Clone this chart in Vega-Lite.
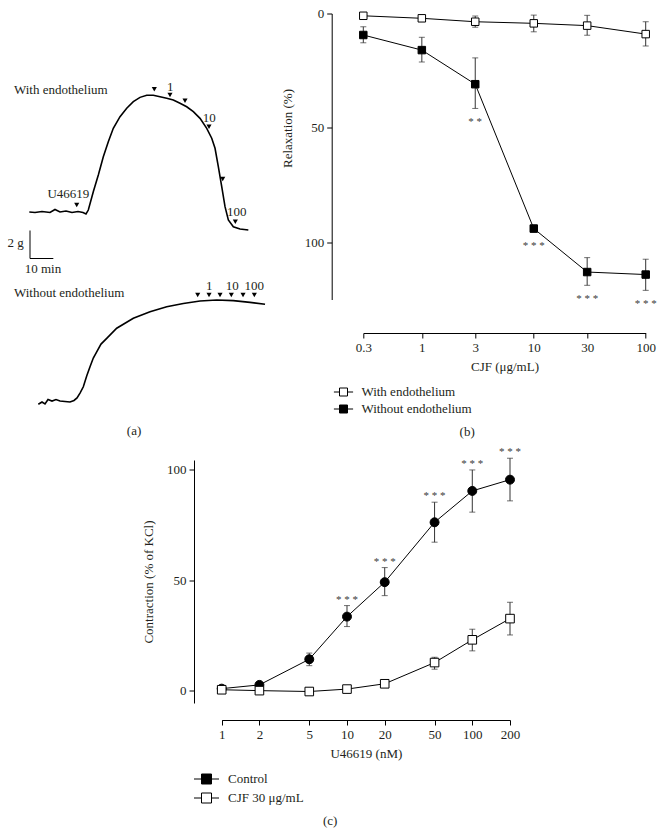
{
 "$schema": "https://vega.github.io/schema/vega-lite/v6.json",
 "autosize": {"type": "none"},
 "padding": {"left": 30, "top": 13.5, "right": 633, "bottom": 821.5},
 "bounds": "flush",
 "spacing": 88.3,
 "resolve": {"scale": {"fill": "independent"}, "legend": {"fill": "independent"}},
 "datasets": {
  "traceWith": [
   {"t": -0.3, "g": 3.82}, {"t": 2.14, "g": 3.79}, {"t": 5.14, "g": 3.86}, {"t": 8.57, "g": 3.79}, {"t": 10.71, "g": 4.0},
   {"t": 12.86, "g": 3.82}, {"t": 15.43, "g": 3.89}, {"t": 18.0, "g": 3.79}, {"t": 20.57, "g": 3.86}, {"t": 22.71, "g": 3.79},
   {"t": 24.0, "g": 3.68}, {"t": 24.99, "g": 3.96}, {"t": 27.13, "g": 5.27}, {"t": 29.28, "g": 6.46}, {"t": 31.42, "g": 7.77},
   {"t": 33.56, "g": 8.84}, {"t": 35.7, "g": 9.8}, {"t": 38.58, "g": 10.63}, {"t": 41.45, "g": 11.23}, {"t": 44.28, "g": 11.7},
   {"t": 47.15, "g": 12.01}, {"t": 50.02, "g": 12.16}, {"t": 52.85, "g": 12.16}, {"t": 55.72, "g": 12.06}, {"t": 58.59, "g": 11.94},
   {"t": 61.42, "g": 11.82}, {"t": 64.29, "g": 11.59}, {"t": 67.17, "g": 11.34}, {"t": 70.0, "g": 10.99}, {"t": 72.87, "g": 10.51},
   {"t": 75.74, "g": 9.8}, {"t": 77.88, "g": 9.09}, {"t": 79.3, "g": 8.37}, {"t": 80.71, "g": 7.06}, {"t": 82.17, "g": 5.63},
   {"t": 83.58, "g": 4.2}, {"t": 85.0, "g": 3.25}, {"t": 87.14, "g": 2.77}, {"t": 90.01, "g": 2.61}, {"t": 93.57, "g": 2.54}
  ],
  "traceWithout": [
   {"t": 3.56, "g": 0.41}, {"t": 5.14, "g": 0.57}, {"t": 6.43, "g": 0.43}, {"t": 7.72, "g": 0.75}, {"t": 9.43, "g": 0.64},
   {"t": 11.14, "g": 0.75}, {"t": 12.86, "g": 0.64}, {"t": 15.0, "g": 0.61}, {"t": 17.14, "g": 0.57}, {"t": 18.86, "g": 0.68},
   {"t": 20.15, "g": 0.86}, {"t": 21.43, "g": 1.21}, {"t": 22.85, "g": 1.66}, {"t": 24.3, "g": 2.43}, {"t": 25.72, "g": 3.09},
   {"t": 27.13, "g": 3.71}, {"t": 28.59, "g": 4.16}, {"t": 30.43, "g": 4.71}, {"t": 32.88, "g": 5.12}, {"t": 37.16, "g": 5.84},
   {"t": 44.28, "g": 6.55}, {"t": 51.44, "g": 7.02}, {"t": 58.59, "g": 7.38}, {"t": 65.71, "g": 7.61}, {"t": 72.87, "g": 7.79},
   {"t": 80.03, "g": 7.86}, {"t": 87.14, "g": 7.81}, {"t": 94.3, "g": 7.69}, {"t": 100.73, "g": 7.55}
  ],
  "arrowsWith": [
   {"t": 53.28, "g": 12.59}, {"t": 60.0, "g": 12.18}, {"t": 66.44, "g": 11.77}, {"t": 76.72, "g": 9.91},
   {"t": 82.6, "g": 6.18}, {"t": 88.0, "g": 3.13}, {"t": 20.02, "g": 4.32}
  ],
  "labelsWith": [
   {"t": 60.14, "g": 12.77, "label": "1"}, {"t": 76.85, "g": 10.51, "label": "10"}, {"t": 88.6, "g": 3.84, "label": "100"},
   {"t": 16.42, "g": 5.09, "label": "U46619"}, {"t": -6.21, "g": 1.59, "label": "2 g"}, {"t": 5.57, "g": -0.25, "label": "10 min"}
  ],
  "scaleBar": [
   {"t1": 0, "t2": 0, "g1": 0.5, "g2": 2.5},
   {"t1": 0, "t2": 10, "g1": 0.5, "g2": 0.5}
  ],
  "arrowsWithout": [
   {"t": 71.87, "g": 8.21}, {"t": 76.72, "g": 8.21}, {"t": 81.44, "g": 8.21}, {"t": 86.28, "g": 8.21}, {"t": 91.3, "g": 8.21}, {"t": 96.14, "g": 8.21}
  ],
  "labelsWithout": [
   {"t": 76.85, "g": 8.88, "label": "1"}, {"t": 86.71, "g": 8.88, "label": "10"}, {"t": 96.14, "g": 8.88, "label": "100"}, {"t": 44.58, "g": -1.5, "label": "(a)"}
  ],
  "relax": [
   {"conc": 0.3, "series": "With endothelium", "mean": 1.0, "lo": 0.5, "hi": 1.5, "sig": ""},
   {"conc": 1, "series": "With endothelium", "mean": 2.1, "lo": 1.6, "hi": 2.6, "sig": ""},
   {"conc": 3, "series": "With endothelium", "mean": 3.6, "lo": 1.1, "hi": 6.0, "sig": ""},
   {"conc": 10, "series": "With endothelium", "mean": 4.3, "lo": 0.7, "hi": 8.0, "sig": ""},
   {"conc": 30, "series": "With endothelium", "mean": 5.3, "lo": 0.8, "hi": 9.5, "sig": ""},
   {"conc": 100, "series": "With endothelium", "mean": 9.0, "lo": 3.6, "hi": 14.2, "sig": ""},
   {"conc": 0.3, "series": "Without endothelium", "mean": 9.4, "lo": 5.8, "hi": 12.8, "sig": ""},
   {"conc": 1, "series": "Without endothelium", "mean": 16.0, "lo": 10.4, "hi": 21.2, "sig": ""},
   {"conc": 3, "series": "Without endothelium", "mean": 30.9, "lo": 19.4, "hi": 41.5, "sig": "* *"},
   {"conc": 10, "series": "Without endothelium", "mean": 94.0, "lo": 92.5, "hi": 95.5, "sig": "* * *"},
   {"conc": 30, "series": "Without endothelium", "mean": 113.0, "lo": 106.7, "hi": 118.8, "sig": "* * *"},
   {"conc": 100, "series": "Without endothelium", "mean": 114.1, "lo": 107.4, "hi": 121.0, "sig": "* * *"}
  ],
  "contract": [
   {"dose": 1, "series": "Control", "mean": 1.0, "lo": 0.3, "hi": 1.7, "sig": ""},
   {"dose": 2, "series": "Control", "mean": 2.7, "lo": 2.0, "hi": 3.4, "sig": ""},
   {"dose": 5, "series": "Control", "mean": 14.3, "lo": 11.4, "hi": 17.1, "sig": ""},
   {"dose": 10, "series": "Control", "mean": 33.6, "lo": 29.1, "hi": 38.6, "sig": "* * *"},
   {"dose": 20, "series": "Control", "mean": 49.2, "lo": 43.1, "hi": 55.8, "sig": "* * *"},
   {"dose": 50, "series": "Control", "mean": 76.3, "lo": 67.3, "hi": 85.4, "sig": "* * *"},
   {"dose": 100, "series": "Control", "mean": 90.5, "lo": 80.9, "hi": 100.0, "sig": "* * *"},
   {"dose": 200, "series": "Control", "mean": 95.6, "lo": 86.0, "hi": 105.3, "sig": "* * *"},
   {"dose": 1, "series": "CJF 30 μg/mL", "mean": 0.5, "lo": 0.0, "hi": 1.0, "sig": ""},
   {"dose": 2, "series": "CJF 30 μg/mL", "mean": 0.1, "lo": -0.4, "hi": 0.6, "sig": ""},
   {"dose": 5, "series": "CJF 30 μg/mL", "mean": -0.3, "lo": -0.8, "hi": 0.2, "sig": ""},
   {"dose": 10, "series": "CJF 30 μg/mL", "mean": 0.8, "lo": 0.3, "hi": 1.3, "sig": ""},
   {"dose": 20, "series": "CJF 30 μg/mL", "mean": 3.2, "lo": 2.5, "hi": 3.9, "sig": ""},
   {"dose": 50, "series": "CJF 30 μg/mL", "mean": 12.8, "lo": 9.8, "hi": 15.2, "sig": ""},
   {"dose": 100, "series": "CJF 30 μg/mL", "mean": 23.1, "lo": 18.1, "hi": 27.9, "sig": ""},
   {"dose": 200, "series": "CJF 30 μg/mL", "mean": 32.7, "lo": 25.3, "hi": 40.1, "sig": ""}
  ],
  "panelB": [{"conc": 2.54, "pos": 182.7, "label": "(b)"}],
  "panelC": [{"dose": 7.35, "pos": -59.1, "label": "(c)"}]
 },
 "hconcat": [
  {
   "width": 245,
   "height": 396.5,
   "resolve": {"scale": {"x": "independent", "y": "independent"}},
   "layer": [
    {
     "resolve": {"scale": {"y": "independent"}},
     "layer": [
      {
       "layer": [
        {
         "data": {"name": "traceWith"},
         "mark": {"type": "line", "color": "black", "strokeWidth": 1.6},
         "encoding": {
          "x": {"field": "t", "type": "quantitative", "scale": {"domain": [0, 105], "nice": false, "zero": false}, "axis": null},
          "y": {"field": "g", "type": "quantitative", "scale": {"domain": [0, 18], "range": [252, 0], "nice": false, "zero": false}, "axis": null}
         }
        },
        {
         "data": {"name": "scaleBar"},
         "mark": {"type": "rule", "color": "black", "strokeWidth": 1},
         "encoding": {
          "x": {"field": "t1", "type": "quantitative"},
          "x2": {"field": "t2"},
          "y": {"field": "g1", "type": "quantitative"},
          "y2": {"field": "g2"}
         }
        },
        {
         "data": {"name": "arrowsWith"},
         "mark": {"type": "point", "shape": "triangle-down", "filled": true, "color": "black", "size": 26, "opacity": 1},
         "encoding": {
          "x": {"field": "t", "type": "quantitative"},
          "y": {"field": "g", "type": "quantitative"}
         }
        },
        {
         "data": {"name": "labelsWith"},
         "mark": {"type": "text", "font": "Liberation Serif", "fontSize": 13, "color": "#231f20", "baseline": "middle", "align": "center"},
         "encoding": {
          "x": {"field": "t", "type": "quantitative"},
          "y": {"field": "g", "type": "quantitative"},
          "text": {"field": "label"}
         }
        },
        {
         "data": {"values": [{"t": -6.86, "g": 12.54, "label": "With endothelium"}]},
         "mark": {"type": "text", "font": "Liberation Serif", "fontSize": 13, "color": "#231f20", "baseline": "middle", "align": "left"},
         "encoding": {
          "x": {"field": "t", "type": "quantitative"},
          "y": {"field": "g", "type": "quantitative"},
          "text": {"field": "label"}
         }
        }
       ]
      },
      {
       "layer": [
        {
         "data": {"name": "traceWithout"},
         "mark": {"type": "line", "color": "black", "strokeWidth": 1.6},
         "encoding": {
          "x": {"field": "t", "type": "quantitative"},
          "y": {"field": "g", "type": "quantitative", "scale": {"domain": [0, 8.893], "range": [396.5, 272], "nice": false, "zero": false}, "axis": null}
         }
        },
        {
         "data": {"name": "arrowsWithout"},
         "mark": {"type": "point", "shape": "triangle-down", "filled": true, "color": "black", "size": 26, "opacity": 1},
         "encoding": {
          "x": {"field": "t", "type": "quantitative"},
          "y": {"field": "g", "type": "quantitative"}
         }
        },
        {
         "data": {"name": "labelsWithout"},
         "mark": {"type": "text", "font": "Liberation Serif", "fontSize": 13, "color": "#231f20", "baseline": "middle", "align": "center"},
         "encoding": {
          "x": {"field": "t", "type": "quantitative"},
          "y": {"field": "g", "type": "quantitative"},
          "text": {"field": "label"}
         }
        },
        {
         "data": {"values": [{"t": -6.86, "g": 8.34, "label": "Without endothelium"}]},
         "mark": {"type": "text", "font": "Liberation Serif", "fontSize": 13, "color": "#231f20", "baseline": "middle", "align": "left"},
         "encoding": {
          "x": {"field": "t", "type": "quantitative"},
          "y": {"field": "g", "type": "quantitative"},
          "text": {"field": "label"}
         }
        }
       ]
      }
     ]
    },
    {
     "data": {"name": "contract"},
     "encoding": {
      "x": {
       "field": "dose", "type": "quantitative", "title": "U46619 (nM)",
       "scale": {"type": "log", "domain": [1, 200], "range": [191.7, 480], "nice": false, "zero": false},
       "axis": {"orient": "bottom", "values": [1, 2, 5, 10, 20, 50, 100, 200], "format": "~g", "offset": 310, "labelFlush": false, "labelOverlap": false, "titlePadding": 6}
      }
     },
     "layer": [
      {
       "mark": {"type": "line", "color": "black", "strokeWidth": 1},
       "encoding": {
        "y": {
         "field": "mean", "type": "quantitative", "title": "Contraction (% of KCl)",
         "scale": {"domain": [-5.5, 104.5], "range": [689.5, 446.5], "nice": false, "zero": false},
         "axis": {"orient": "left", "values": [0, 50, 100], "offset": -164, "labelFlush": false, "titlePadding": 11}
        },
        "detail": {"field": "series"}
       }
      },
      {
       "mark": {"type": "errorbar", "ticks": true, "size": 6, "thickness": 1, "color": "#333333"},
       "encoding": {
        "y": {"field": "lo", "type": "quantitative", "title": "Contraction (% of KCl)"},
        "y2": {"field": "hi"}
       }
      },
      {
       "transform": [{"filter": "datum.series === 'Control'"}],
       "mark": {"type": "point", "shape": "circle", "size": 80, "filled": true, "stroke": "black", "strokeWidth": 1, "opacity": 1},
       "encoding": {
        "y": {"field": "mean", "type": "quantitative", "title": "Contraction (% of KCl)"},
        "fill": {
         "field": "series", "type": "nominal",
         "scale": {"domain": ["Control", "CJF 30 μg/mL"], "range": ["black", "white"]},
         "legend": {
          "title": null, "orient": "none", "legendX": 170, "legendY": 759,
          "symbolType": "M-2.5,0H-1M1,0H2.5M-1,-1H1V1H-1Z", "symbolSize": 100,
          "symbolStrokeColor": "black", "symbolStrokeWidth": 1, "labelOffset": 15, "rowPadding": 4,
          "values": ["Control", "CJF 30 μg/mL"],
          "encode": {"symbols": {"update": {"shape": {"signal": "datum.value === 'Control' ? 'M-2.5,0H-1M1,0H2.5M1,0A1,1,0,1,1,-1,0A1,1,0,1,1,1,0Z' : 'M-2.5,0H-1M1,0H2.5M-1,-1H1V1H-1Z'"}}}}
         }
        }
       }
      },
      {
       "transform": [{"filter": "datum.series !== 'Control'"}],
       "mark": {"type": "point", "shape": "square", "size": 74, "filled": true, "stroke": "black", "strokeWidth": 1, "opacity": 1},
       "encoding": {
        "y": {"field": "mean", "type": "quantitative", "title": "Contraction (% of KCl)"},
        "fill": {"field": "series", "type": "nominal"}
       }
      },
      {
       "transform": [{"filter": "datum.sig != ''"}],
       "mark": {"type": "text", "font": "Liberation Serif", "fontSize": 11, "color": "#3a3a3a", "baseline": "middle", "dy": -6},
       "encoding": {
        "y": {"field": "hi", "type": "quantitative", "title": "Contraction (% of KCl)"},
        "text": {"field": "sig"}
       }
      },
      {
       "data": {"name": "panelC"},
       "mark": {"type": "text", "font": "Liberation Serif", "fontSize": 13, "color": "#231f20", "baseline": "middle", "align": "center"},
       "encoding": {
        "y": {"field": "pos", "type": "quantitative", "title": "Contraction (% of KCl)"},
        "text": {"field": "label"}
       }
      }
     ]
    }
   ]
  },
  {
   "width": 282.4,
   "height": 286,
   "data": {"name": "relax"},
   "encoding": {
    "x": {
     "field": "conc", "type": "quantitative", "title": "CJF (μg/mL)",
     "scale": {"type": "log", "domain": [0.3, 100], "nice": false, "zero": false},
     "axis": {"values": [0.3, 1, 3, 10, 30, 100], "format": "~g", "offset": 33.5, "labelFlush": false, "labelOverlap": false, "titlePadding": 6}
    }
   },
   "layer": [
    {
     "mark": {"type": "line", "color": "black", "strokeWidth": 1},
     "encoding": {
      "y": {
       "field": "mean", "type": "quantitative", "title": "Relaxation (%)",
       "scale": {"domain": [0, 125], "reverse": true, "nice": false, "zero": false},
       "axis": {"values": [0, 50, 100], "offset": 31.6, "labelFlush": false, "titleY": 114.5, "titlePadding": 10}
      },
      "detail": {"field": "series"}
     }
    },
    {
     "mark": {"type": "errorbar", "ticks": true, "size": 6, "thickness": 1, "color": "#333333"},
     "encoding": {
      "y": {"field": "lo", "type": "quantitative", "title": "Relaxation (%)"},
      "y2": {"field": "hi"}
     }
    },
    {
     "mark": {"type": "point", "shape": "square", "size": 56, "filled": true, "stroke": "black", "strokeWidth": 1, "opacity": 1},
     "encoding": {
      "y": {"field": "mean", "type": "quantitative", "title": "Relaxation (%)"},
      "fill": {
       "field": "series", "type": "nominal",
       "scale": {"domain": ["With endothelium", "Without endothelium"], "range": ["white", "black"]},
       "legend": {
        "title": null, "orient": "none", "legendX": -26.3, "legendY": 372,
        "symbolType": "M-2.4,0H-1M1,0H2.4M-1,-1H1V1H-1Z", "symbolSize": 64,
        "symbolStrokeColor": "black", "symbolStrokeWidth": 1, "labelOffset": 11.4, "rowPadding": 3
       }
      }
     }
    },
    {
     "transform": [{"filter": "datum.sig != ''"}],
     "mark": {"type": "text", "font": "Liberation Serif", "fontSize": 11, "color": "#3a3a3a", "baseline": "middle", "dy": 14},
     "encoding": {
      "y": {"field": "hi", "type": "quantitative", "title": "Relaxation (%)"},
      "text": {"field": "sig"}
     }
    },
    {
     "data": {"name": "panelB"},
     "mark": {"type": "text", "font": "Liberation Serif", "fontSize": 13, "color": "#231f20", "baseline": "middle", "align": "center"},
     "encoding": {
      "y": {"field": "pos", "type": "quantitative", "title": "Relaxation (%)"},
      "text": {"field": "label"}
     }
    }
   ]
  }
 ],
 "config": {
  "view": {"stroke": null},
  "font": "Liberation Serif",
  "axis": {
   "grid": false, "domainColor": "#000000", "tickColor": "#000000", "domainWidth": 1, "tickWidth": 1, "tickSize": 5,
   "labelFont": "Liberation Serif", "labelFontSize": 13, "labelColor": "#231f20", "labelPadding": 3,
   "titleFont": "Liberation Serif", "titleFontSize": 13, "titleFontWeight": "normal", "titleColor": "#231f20"
  },
  "legend": {"labelFont": "Liberation Serif", "labelFontSize": 13, "labelColor": "#231f20", "padding": 0},
  "title": {"font": "Liberation Serif", "fontSize": 13, "fontWeight": "normal", "color": "#231f20"}
 }
}
